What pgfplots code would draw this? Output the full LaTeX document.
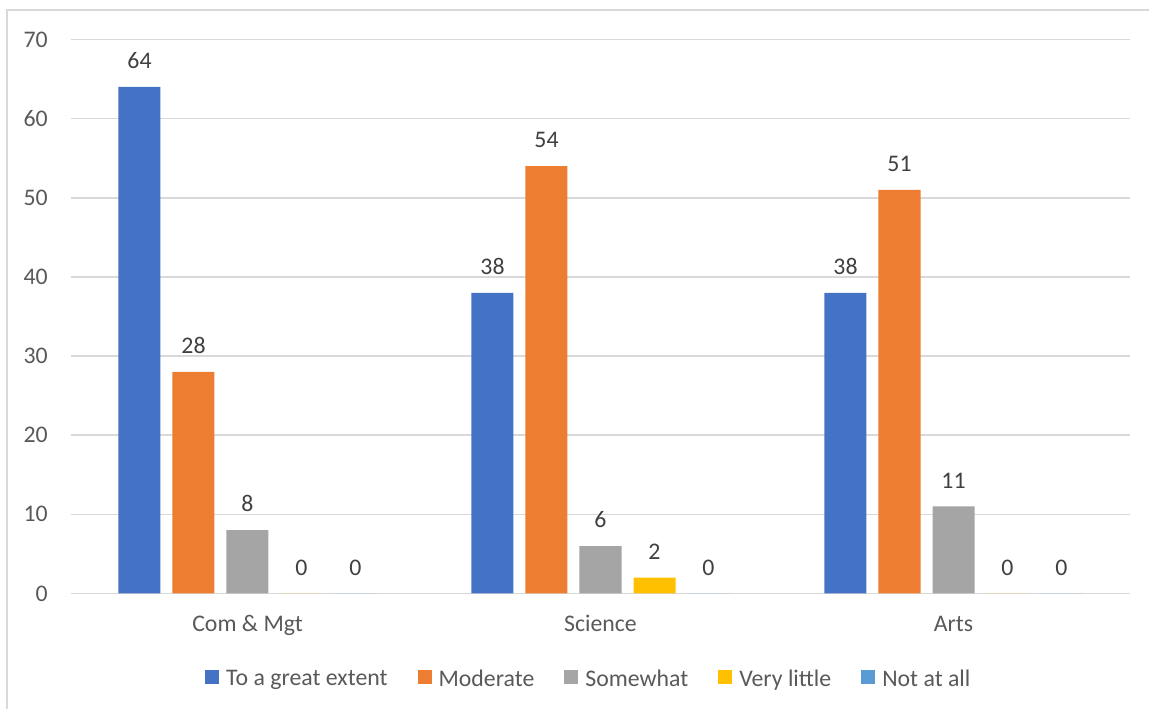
\documentclass[border=0pt]{standalone}
\usepackage{pgfplots}
\pgfplotsset{compat=1.18}
\usepackage{fontspec}
\setmainfont{Carlito}
\definecolor{c1}{HTML}{4472C4}
\definecolor{c2}{HTML}{ED7D31}
\definecolor{c3}{HTML}{A5A5A5}
\definecolor{c4}{HTML}{FFC000}
\definecolor{c5}{HTML}{5B9BD5}
\definecolor{gridgray}{HTML}{D9D9D9}
\definecolor{labgray}{HTML}{595959}
\definecolor{datgray}{HTML}{404040}
\newcommand{\fs}{\fontsize{23.8}{28.5}\selectfont}
\begin{document}
\begin{tikzpicture}
\begin{axis}[
  scale only axis, width=1059pt, height=554pt,
  ybar=12pt, bar width=42pt,
  xmin=-0.5, xmax=2.5, ymin=0, ymax=70,
  xtick={0,1,2}, xticklabels={Com \& Mgt, Science, Arts},
  ytick={0,10,...,70},
  major tick length=0pt,
  axis line style={draw=none},
  ymajorgrids, grid style={draw=gridgray, line width=1.5pt},
  tick label style={font=\fs, text=labgray},
  /pgf/number format/assume math mode=true,
  yticklabel style={anchor=east, inner sep=0pt, xshift=-23pt},
  xticklabel style={anchor=base, inner sep=0pt, yshift=-38.5pt},
  nodes near coords,
  every node near coord/.append style={font=\fs, text=datgray, inner sep=0pt, anchor=south, yshift=18pt},
  legend columns=5,
  legend style={draw=none, fill=none, at={(axis description cs:0.488,-0.1545)}, anchor=center,
    font=\fs, text=labgray, nodes={inner sep=0pt},
    /tikz/every odd column/.append style={column sep=7pt},
    /tikz/every even column/.append style={column sep=30pt}},
  legend image code/.code={\fill[#1] (0pt,-5pt) rectangle (14pt,9pt);},
]
\addplot[fill=c1, draw=none] coordinates {(0,64) (1,38) (2,38)};
\addplot[fill=c2, draw=none] coordinates {(0,28) (1,54) (2,51)};
\addplot[fill=c3, draw=none] coordinates {(0,8) (1,6) (2,11)};
\addplot[fill=c4, draw=none] coordinates {(0,0) (1,2) (2,0)};
\addplot[fill=c5, draw=none] coordinates {(0,0) (1,0) (2,0)};
\legend{To a great extent, Moderate, Somewhat, Very little, Not at all}
\end{axis}
\draw[gridgray, line width=1.5pt] (-64pt,-115.5pt) -- (-64pt,583.5pt) -- (1078pt,583.5pt);
\pgfresetboundingbox
\useasboundingbox (-71pt,-115.5pt) rectangle (1078pt,593.5pt);
\end{tikzpicture}
\end{document}
